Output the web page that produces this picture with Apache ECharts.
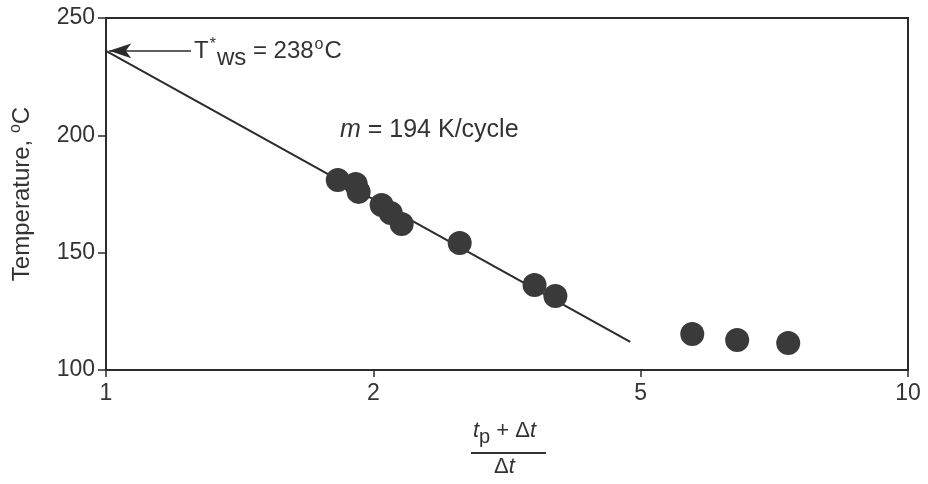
<!DOCTYPE html>
<html>
<head>
<meta charset="utf-8">
<script src="https://cdn.jsdelivr.net/npm/echarts@6/dist/echarts.min.js"></script>
<style>html,body{margin:0;padding:0;background:#fff}#c{width:928px;height:484px}</style>
</head>
<body>
<div id="c"></div>
<script>
// x positions are in axis units: ticks 1,2,5,10 are drawn equally spaced at 0,1,2,3
const xTickLabels = ['1', '2', '5', '10'];
const yTicks = [100, 150, 200, 250];
const pointsX = [0.867, 0.934, 0.945, 1.031, 1.065, 1.106, 1.323, 1.603, 1.681, 2.193, 2.361, 2.552];
const pointsY = [181.0, 179.3, 175.9, 170.3, 166.9, 162.2, 154.1, 136.2, 131.5, 115.3, 112.8, 111.5];
const fitX = [0, 1.961];
const fitY = [236, 112];
const arrowX = [0.318, 0.012];
const arrowY = 236;

const FONT = '"Liberation Sans", Arial, sans-serif';
const INK = '#2b2b2b';
const TXT = '#333';

const chart = echarts.init(document.getElementById('c'), null, {renderer: 'canvas'});
chart.setOption({
  animation: false,
  backgroundColor: '#fff',
  grid: {left: 105, right: 20, top: 18, bottom: 114, show: true, borderColor: INK, borderWidth: 2},
  xAxis: {
    type: 'value', min: 0, max: 3, interval: 1,
    axisLine: {show: true, lineStyle: {color: INK, width: 2}},
    axisTick: {show: true, length: 7, lineStyle: {color: INK, width: 1.5}},
    splitLine: {show: false},
    axisLabel: {
      color: TXT, fontFamily: FONT, fontSize: 23, margin: 12,
      formatter: v => xTickLabels[Math.round(v)]
    }
  },
  yAxis: {
    type: 'value', min: yTicks[0], max: yTicks[yTicks.length - 1], interval: 50,
    axisLine: {show: true, lineStyle: {color: INK, width: 2}},
    axisTick: {show: true, length: 8, lineStyle: {color: INK, width: 1.5}},
    splitLine: {show: false},
    axisLabel: {color: TXT, fontFamily: FONT, fontSize: 23, margin: 11},
    name: '{n|Temperature, }{s|o}{n|C}',
    nameLocation: 'middle',
    nameGap: 70,
    nameRotate: 90,
    nameTextStyle: {
      rich: {
        n: {fontFamily: FONT, fontSize: 24, color: TXT},
        s: {fontFamily: FONT, fontSize: 16, color: TXT, verticalAlign: 'top', padding: [0, 0, 12, 0]}
      }
    }
  },
  series: [
    {
      type: 'line',
      data: fitX.map((x, i) => [x, fitY[i]]),
      symbol: 'none',
      lineStyle: {color: INK, width: 2},
      z: 2,
      markLine: {
        silent: true,
        symbol: ['none', 'arrow'],
        symbolSize: [11, 22],
        label: {show: false},
        lineStyle: {color: INK, width: 1.5, type: 'solid'},
        data: [[{coord: [arrowX[0], arrowY]}, {coord: [arrowX[1], arrowY]}]]
      }
    },
    {
      type: 'scatter',
      data: pointsX.map((x, i) => [x, pointsY[i]]),
      symbol: 'circle',
      symbolSize: 24,
      itemStyle: {color: '#3a3a3a', opacity: 1},
      z: 3
    }
  ],
  graphic: [
    {
      type: 'text', left: 194, top: 37,
      style: {
        rich: {
          n: {fontFamily: FONT, fontSize: 24, fill: TXT},
          sup: {fontFamily: FONT, fontSize: 16, fill: TXT, padding: [0, 1, 12, 1]},
          sub: {fontFamily: FONT, fontSize: 24, fill: TXT, padding: [14, 0, 0, 0]}
        },
        text: '{n|T}{sup|*}{sub|ws}{n| = 238}{sup|o}{n|C}'
      }
    },
    {
      type: 'text', left: 340, top: 118,
      style: {
        rich: {
          i: {fontFamily: FONT, fontSize: 25, fontStyle: 'italic', fill: TXT},
          n: {fontFamily: FONT, fontSize: 25, fill: TXT}
        },
        text: '{i|m}{n| = 194 K/cycle}'
      }
    },
    {
      type: 'text', left: 473, top: 420,
      style: {
        rich: {
          i: {fontFamily: FONT, fontSize: 22, fontStyle: 'italic', fill: TXT},
          sub: {fontFamily: FONT, fontSize: 20, fill: TXT, padding: [12, 0, 0, 0]},
          n: {fontFamily: FONT, fontSize: 22, fill: TXT}
        },
        text: '{i|t}{sub|p}{n| + Δ}{i|t}'
      }
    },
    {
      type: 'line',
      shape: {x1: 471, y1: 453, x2: 546, y2: 453},
      style: {stroke: TXT, lineWidth: 2}
    },
    {
      type: 'text', left: 494, top: 456,
      style: {
        rich: {
          i: {fontFamily: FONT, fontSize: 22, fontStyle: 'italic', fill: TXT},
          n: {fontFamily: FONT, fontSize: 22, fill: TXT}
        },
        text: '{n|Δ}{i|t}'
      }
    }
  ]
});
</script>
</body>
</html>
